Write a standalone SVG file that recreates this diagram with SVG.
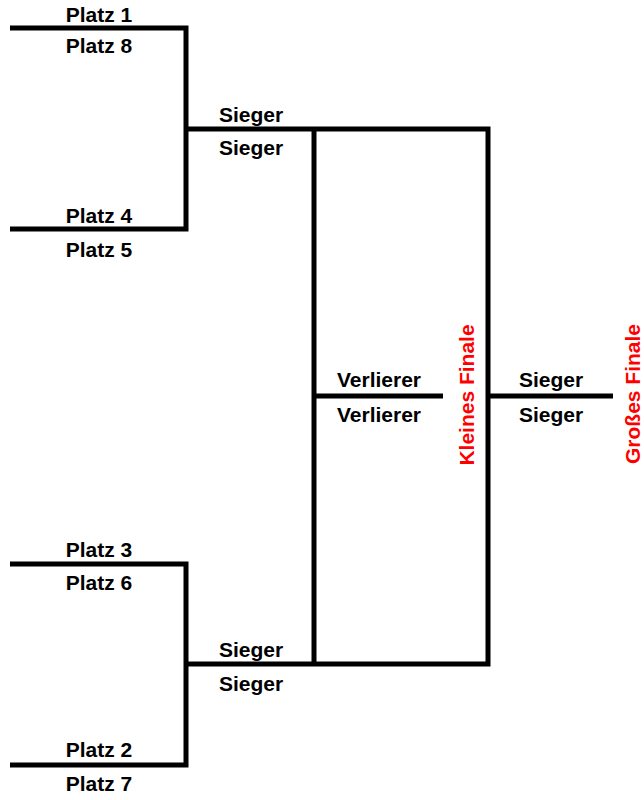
<svg xmlns="http://www.w3.org/2000/svg" width="644" height="800" viewBox="0 0 644 800">
<style>
.ln{stroke:#000;stroke-width:5;fill:none;stroke-linecap:butt}
.t{font-family:"Liberation Sans",Arial,sans-serif;font-weight:bold;font-size:21px;fill:#000;text-anchor:middle}
.r{font-family:"Liberation Sans",Arial,sans-serif;font-weight:bold;font-size:21px;fill:#ff0000;text-anchor:middle}
</style>
<rect width="644" height="800" fill="#fff"/>
<g id="connectors">
<path class="ln" d="M10 28 H186 V229 H10"/>
<path class="ln" d="M10 564 H186 V765 H10"/>
<path class="ln" d="M186 129 H488 V664 H186"/>
<path class="ln" d="M314 129 V664"/>
<path class="ln" d="M314 396 H443"/>
<path class="ln" d="M488 396 H613"/>
</g>
<g id="n-platz1-8"><text class="t" x="99" y="22">Platz 1</text><text class="t" x="99" y="53">Platz 8</text></g>
<g id="n-platz4-5"><text class="t" x="99" y="223">Platz 4</text><text class="t" x="99" y="257">Platz 5</text></g>
<g id="n-platz3-6"><text class="t" x="99" y="557">Platz 3</text><text class="t" x="99" y="590">Platz 6</text></g>
<g id="n-platz2-7"><text class="t" x="99" y="757">Platz 2</text><text class="t" x="99" y="791">Platz 7</text></g>
<g id="n-sieger-top"><text class="t" x="251" y="122">Sieger</text><text class="t" x="251" y="155">Sieger</text></g>
<g id="n-sieger-bottom"><text class="t" x="251" y="657">Sieger</text><text class="t" x="251" y="691">Sieger</text></g>
<g id="n-verlierer"><text class="t" x="379" y="387">Verlierer</text><text class="t" x="379" y="422">Verlierer</text></g>
<g id="n-sieger-final"><text class="t" x="551" y="387">Sieger</text><text class="t" x="551" y="422">Sieger</text></g>
<g id="n-kleines-finale"><text class="r" transform="translate(473.5 395) rotate(-90)">Kleines Finale</text></g>
<g id="n-grosses-finale"><text class="r" transform="translate(640 394) rotate(-90)">Großes Finale</text></g>
</svg>
